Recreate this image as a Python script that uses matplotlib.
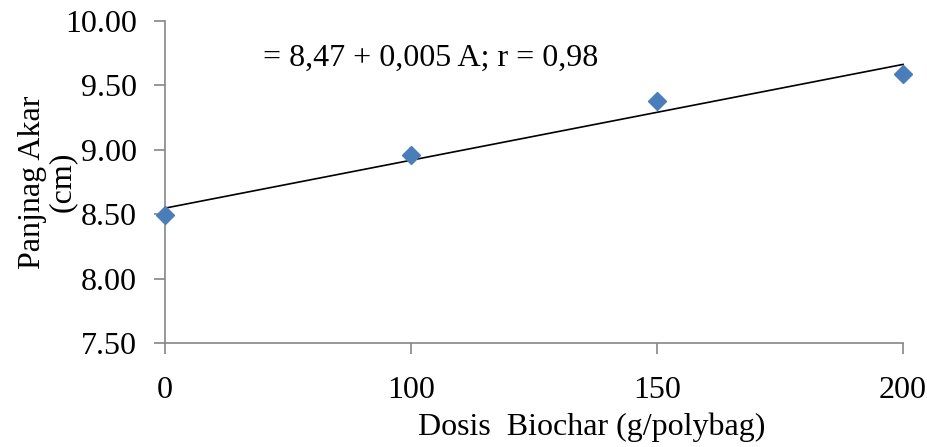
import numpy as np
import matplotlib
matplotlib.use('Agg')
import matplotlib.pyplot as plt

plt.rcParams['font.family'] = ['Liberation Serif', 'DejaVu Serif']

# data
dosis = ['0', '100', '150', '200']
panjang_akar = [8.49, 8.96, 9.38, 9.59]
y_ticks = [7.50, 8.00, 8.50, 9.00, 9.50, 10.00]
equation = '= 8,47 + 0,005 A; r = 0,98'

fig = plt.figure(figsize=(9.28, 4.47), dpi=100)
ax = fig.add_axes([0.1778, 0.2327, 0.7953, 0.7203])

xpos = np.arange(len(dosis))
ax.plot(xpos, panjang_akar, linestyle='none', marker='D', ms=9.5,
        color='#4A7EBB', clip_on=False, zorder=3)

# linear trendline over category positions (as in Excel)
k, b = np.polyfit(xpos, panjang_akar, 1)
ax.plot(xpos[[0, -1]], k * xpos[[0, -1]] + b, color='black', lw=1.2,
        clip_on=False, zorder=2)

ax.set_xlim(0, len(dosis) - 1)
ax.set_ylim(7.5, 10.0)
ax.set_xticks(xpos)
ax.set_xticklabels(dosis)
ax.set_yticks(y_ticks)
ax.set_yticklabels(['%.2f' % v for v in y_ticks])

for s in ['top', 'right']:
    ax.spines[s].set_visible(False)
for s in ['left', 'bottom']:
    ax.spines[s].set_color('#868686')
    ax.spines[s].set_linewidth(1.2)
ax.tick_params(axis='both', direction='out', length=8, width=1.2,
               color='#868686', labelsize=23)
ax.tick_params(axis='x', pad=16)
ax.tick_params(axis='y', pad=12)

ax.set_ylabel('Panjnag Akar\n(cm)', fontsize=23, linespacing=1.05)
ax.yaxis.set_label_coords(-0.119, 0.5)
ax.set_xlabel('Dosis  Biochar (g/polybag)', fontsize=23)
ax.xaxis.set_label_coords(0.578, -0.215)

ax.text(0.133, 0.885, equation, transform=ax.transAxes, fontsize=23,
        va='center', ha='left')

fig.savefig('out.png', dpi=100)
